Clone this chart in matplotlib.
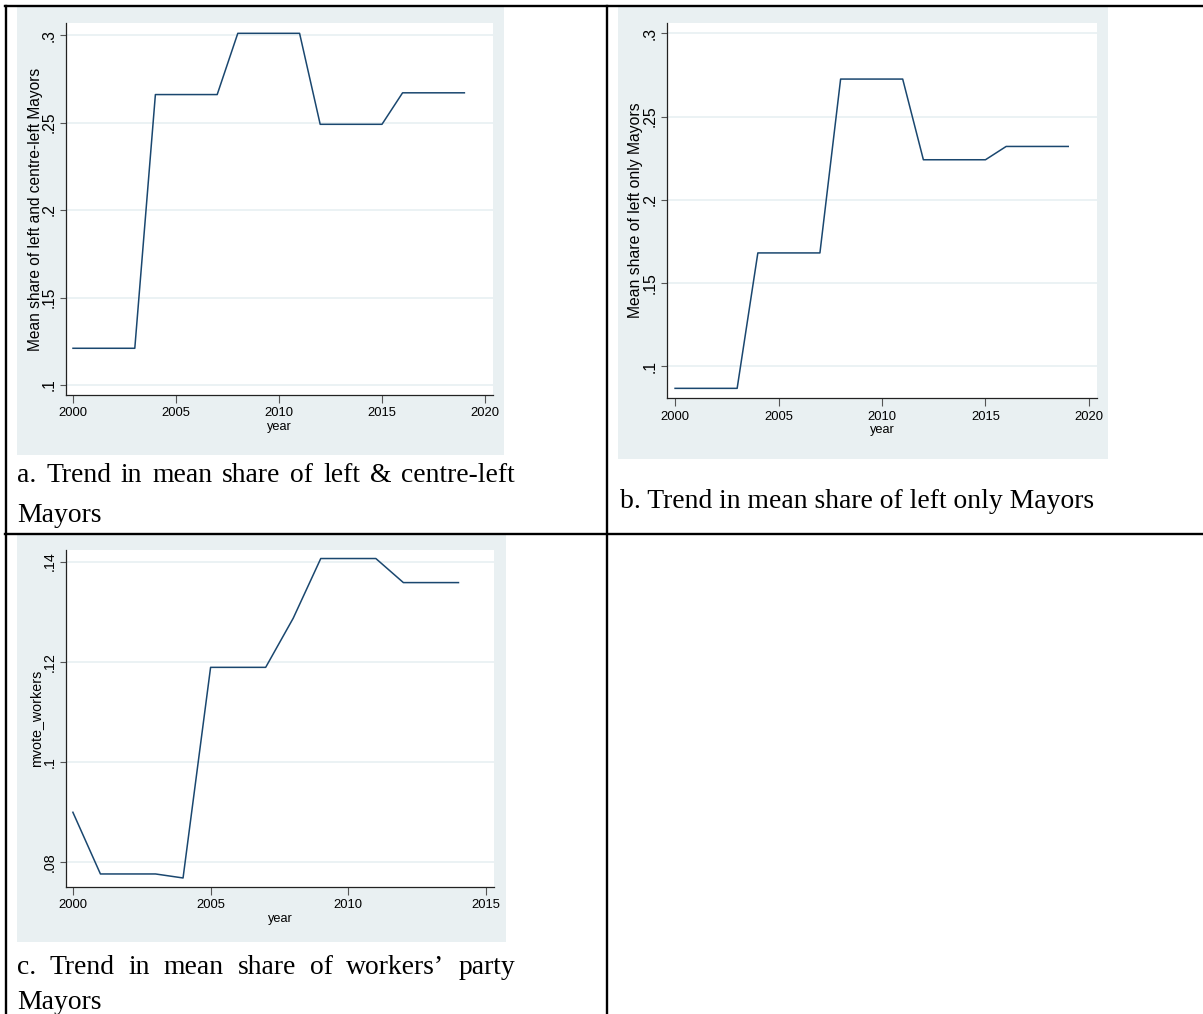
import matplotlib
matplotlib.use("Agg")
import matplotlib.pyplot as plt
from matplotlib.lines import Line2D
from matplotlib.patches import Rectangle

# Yearly means
years_a = [2000, 2001, 2002, 2003, 2004, 2005, 2006, 2007, 2008, 2009,
           2010, 2011, 2012, 2013, 2014, 2015, 2016, 2017, 2018, 2019]
share_left_centre = [0.121, 0.121, 0.121, 0.121, 0.266, 0.266, 0.266, 0.266,
                     0.301, 0.301, 0.301, 0.301, 0.249, 0.249, 0.249, 0.249,
                     0.267, 0.267, 0.267, 0.267]
share_left_only = [0.0866, 0.0866, 0.0866, 0.0866, 0.168, 0.168, 0.168, 0.168,
                   0.2725, 0.2725, 0.2725, 0.2725, 0.224, 0.224, 0.224, 0.224,
                   0.232, 0.232, 0.232, 0.232]
years_c = [2000, 2001, 2002, 2003, 2004, 2005, 2006, 2007,
           2008, 2009, 2010, 2011, 2012, 2013, 2014]
mvote_workers = [0.090, 0.0777, 0.0777, 0.0777, 0.0769, 0.1189, 0.1189, 0.1189,
                 0.1287, 0.1406, 0.1406, 0.1406, 0.1358, 0.1358, 0.1358]

yticks_ab = [0.1, 0.15, 0.2, 0.25, 0.3]
ylabels_ab = [".1", ".15", ".2", ".25", ".3"]
yticks_c = [0.08, 0.1, 0.12, 0.14]
ylabels_c = [".08", ".1", ".12", ".14"]

captions = {
    "a": ["a. Trend in mean share of left & centre-left", "Mayors"],
    "b": ["b. Trend in mean share of left only Mayors"],
    "c": ["c. Trend in mean share of workers\u2019 party", "Mayors"],
}

W, H = 1203, 1014
STATA_BG = "#e9f0f2"
STATA_GRID = "#e8f0f2"
STATA_NAVY = "#1a476f"
SANS = "Liberation Sans"
SERIF = "Liberation Serif"

fig = plt.figure(figsize=(W / 100, H / 100), dpi=100)
fig.patch.set_facecolor("white")


def box(left, top, right, bottom):
    """Pixel box (origin top-left) -> figure fraction [l, b, w, h]."""
    return [left / W, 1 - bottom / H, (right - left) / W, (bottom - top) / H]


def stata_panel(bg_box, ax_box, x, y, xlim, ylim, xticks, yticks, ylabels,
                ylabel, ysize, ylabel_x):
    # the exported graphs are stretched vertically, so rotated text runs longer
    l, b, w, h = box(*bg_box)
    fig.add_artist(Rectangle((l, b), w, h, transform=fig.transFigure,
                             facecolor=STATA_BG, edgecolor="none", zorder=0))
    ax = fig.add_axes(box(*ax_box))
    ax.set_facecolor("white")
    ax.plot(x, y, color=STATA_NAVY, lw=1.1, zorder=3)
    ax.set_xlim(*xlim)
    ax.set_ylim(*ylim)
    ax.set_xticks(xticks)
    ax.set_xticklabels([str(t) for t in xticks], fontfamily=SANS, fontsize=9.4)
    ax.set_yticks(yticks)
    ax.set_yticklabels(ylabels, fontfamily=SANS, fontsize=ysize,
                       rotation=90, va="center")
    ax.yaxis.grid(True, color=STATA_GRID, lw=1.2, zorder=0)
    ax.set_axisbelow(True)
    for side in ("top", "right"):
        ax.spines[side].set_visible(False)
    for side in ("left", "bottom"):
        ax.spines[side].set_color("#222222")
        ax.spines[side].set_linewidth(0.9)
    ax.tick_params(axis="x", direction="out", length=6, width=0.8,
                   color="#555555", pad=3)
    ax.tick_params(axis="y", direction="out", length=4, width=0.8,
                   color="#555555", pad=3)
    ax.set_xlabel("year", fontfamily=SANS, fontsize=9.2, labelpad=1)
    ax.set_ylabel(ylabel, fontfamily=SANS, fontsize=ysize)
    # x is the right edge of the rotated title, in axes pixels from the spine
    ax.yaxis.set_label_coords(ylabel_x / (ax_box[2] - ax_box[0]), 0.5)
    return ax


stata_panel((17, 7, 504, 455), (66, 23, 493, 395),
            years_a, share_left_centre, (1999.66, 2020.39), (0.0943, 0.3069),
            [2000, 2005, 2010, 2015, 2020], yticks_ab, ylabels_ab,
            "Mean share of left and centre-left Mayors", 11.2, -23)
stata_panel((618, 7, 1108, 459), (667, 23, 1097, 398),
            years_a, share_left_only, (1999.61, 2020.39), (0.0808, 0.3062),
            [2000, 2005, 2010, 2015, 2020], yticks_ab, ylabels_ab,
            "Mean share of left only Mayors", 11.3, -24)
stata_panel((17, 535, 506, 942), (66, 550, 494, 887),
            years_c, mvote_workers, (1999.75, 2015.29), (0.0751, 0.1423),
            [2000, 2005, 2010, 2015], yticks_c, ylabels_c,
            "mvote_workers", 10.3, -23)

# Captions, Word-style: first line justified, last line flush left
renderer = fig.canvas.get_renderer()
CAP_SIZE = 19.9


def caption_line(text, x0, y, x1=None):
    if x1 is None:
        fig.text(x0 / W, 1 - y / H, text, fontfamily=SERIF, fontsize=CAP_SIZE,
                 va="baseline", ha="left")
        return
    words = text.split(" ")
    items = [fig.text(0, 1 - y / H, w, fontfamily=SERIF, fontsize=CAP_SIZE,
                      va="baseline", ha="left") for w in words]
    widths = [t.get_window_extent(renderer).width for t in items]
    gap = (x1 - x0 - sum(widths)) / (len(words) - 1)
    pos = x0
    for t, wd in zip(items, widths):
        t.set_x(pos / W)
        pos += wd + gap


caption_line(captions["a"][0], 17, 482, 515)
caption_line(captions["a"][1], 17, 522)
caption_line(captions["b"][0], 620, 508)
caption_line(captions["c"][0], 17, 974, 515)
caption_line(captions["c"][1], 17, 1009)

# Table rules
rule = dict(color="black", lw=1.7, transform=fig.transFigure, zorder=5)
fig.add_artist(Line2D([5 / W, 1], [1 - 6 / H, 1 - 6 / H], **rule))
fig.add_artist(Line2D([5 / W, 1], [1 - 534 / H, 1 - 534 / H], **rule))
fig.add_artist(Line2D([5.5 / W, 5.5 / W], [0, 1 - 6 / H], **rule))
fig.add_artist(Line2D([606.5 / W, 606.5 / W], [0, 1 - 6 / H], **rule))

fig.savefig("out.png", dpi=100)
